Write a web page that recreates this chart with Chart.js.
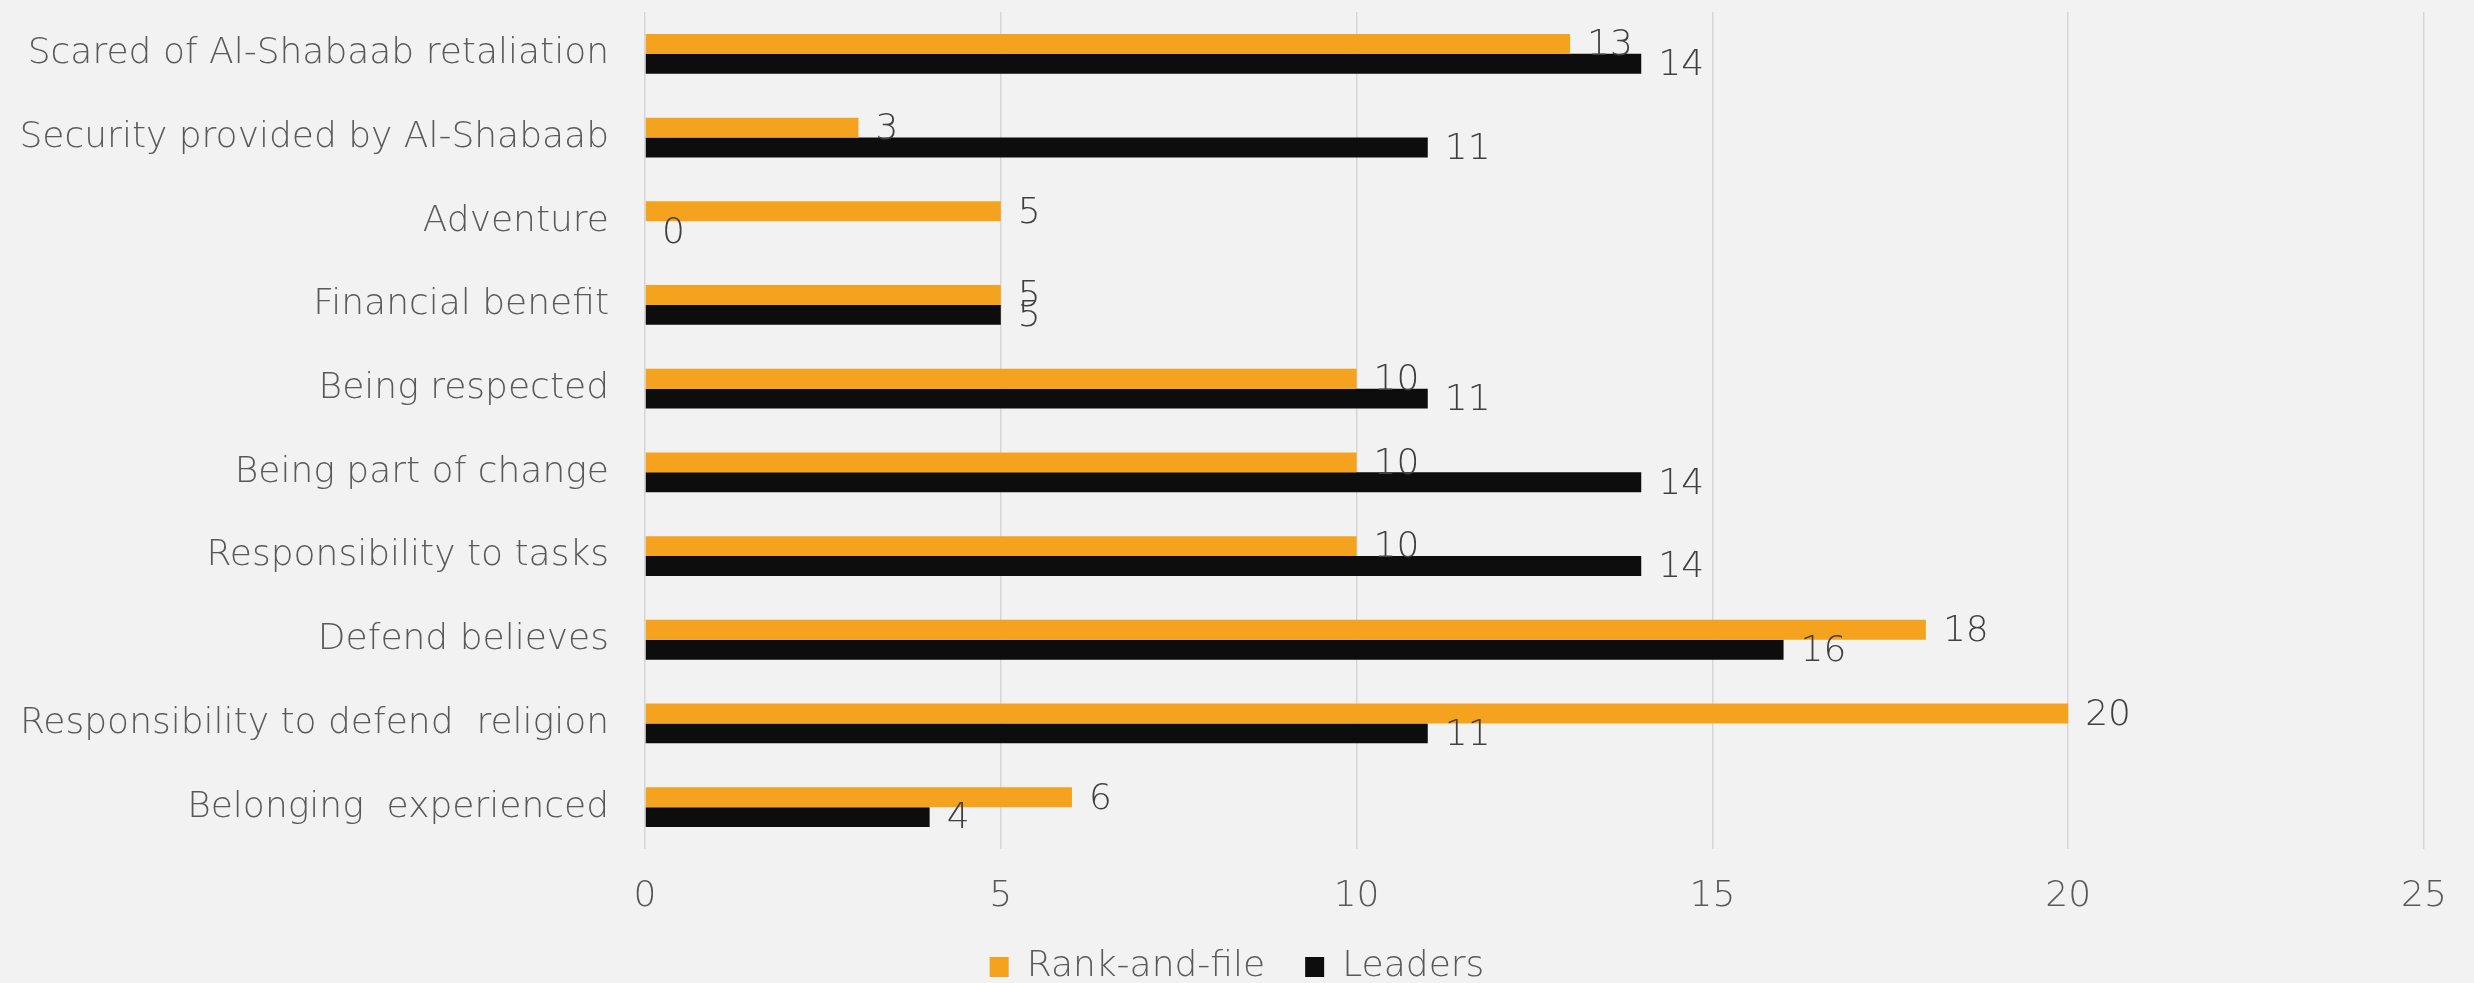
<!DOCTYPE html>
<html>
<head>
<meta charset="utf-8">
<script src="https://cdn.jsdelivr.net/npm/chart.js@4"></script>
<style>
  body { margin: 0; background: #f2f2f2; }
  #wrap { width: 2474px; height: 983px; }
</style>
</head>
<body>
<div id="wrap"><canvas id="myChart" width="2474" height="983"></canvas></div>
<script>
const categories = [
  'Scared of Al-Shabaab retaliation',
  'Security provided by Al-Shabaab',
  'Adventure',
  'Financial benefit',
  'Being respected',
  'Being part of change',
  'Responsibility to tasks',
  'Defend believes',
  'Responsibility to defend  religion',
  'Belonging  experienced'
];
const rankAndFile = [13, 3, 5, 5, 10, 10, 10, 18, 20, 6];
const leaders = [14, 11, 0, 5, 11, 14, 14, 16, 11, 4];
const xTicks = [0, 5, 10, 15, 20, 25];

const FONT = 'DejaVu Sans';
const WEIGHT = '200';
const SIZE = 36;
const TEXT = '#595959';

// value labels just past the end of each bar
const valueLabels = {
  id: 'valueLabels',
  afterDatasetsDraw(chart) {
    const ctx = chart.ctx;
    ctx.save();
    ctx.font = WEIGHT + ' ' + SIZE + 'px "' + FONT + '"';
    ctx.fillStyle = '#404040';
    ctx.textBaseline = 'middle';
    ctx.textAlign = 'left';
    chart.data.datasets.forEach((ds, i) => {
      chart.getDatasetMeta(i).data.forEach((bar, j) => {
        ctx.fillText(ds.data[j], bar.x + 17, bar.y + 2);
      });
    });
    ctx.restore();
  }
};

const ctx = document.getElementById('myChart').getContext('2d');
const myChart = new Chart(ctx, {
  type: 'bar',
  data: {
    labels: categories,
    datasets: [{
      label: 'Rank-and-file',
      data: rankAndFile,
      backgroundColor: '#f5a31f',
      categoryPercentage: 0.475,
      barPercentage: 1
    }, {
      label: 'Leaders',
      data: leaders,
      backgroundColor: '#0d0d0d',
      categoryPercentage: 0.475,
      barPercentage: 1
    }]
  },
  options: {
    indexAxis: 'y',
    responsive: false,
    animation: false,
    layout: { padding: { top: 12, right: 0, bottom: -12, left: 0 } },
    scales: {
      x: {
        min: 0,
        max: 25,
        afterBuildTicks: (scale) => { scale.ticks = xTicks.map(v => ({ value: v })); },
        afterFit: (scale) => { scale.height = 60; scale.paddingRight = 50; },
        grid: { color: '#d6d6d6', lineWidth: 1.5, drawTicks: false },
        border: { display: false },
        ticks: { color: TEXT, font: { family: FONT, size: SIZE, weight: WEIGHT }, padding: 26 }
      },
      y: {
        afterFit: (scale) => { scale.width = 645; scale.paddingTop = 0; scale.paddingBottom = 0; },
        grid: { display: false, drawTicks: false },
        border: { display: false },
        ticks: { color: TEXT, font: { family: FONT, size: SIZE, weight: WEIGHT }, padding: 36 }
      }
    },
    plugins: {
      legend: {
        position: 'bottom',
        labels: {
          color: TEXT,
          font: { family: FONT, size: SIZE, weight: WEIGHT },
          boxWidth: 19,
          boxHeight: 20,
          padding: 40
        }
      },
      tooltip: { enabled: false }
    }
  },
  plugins: [valueLabels]
});
</script>
</body>
</html>
